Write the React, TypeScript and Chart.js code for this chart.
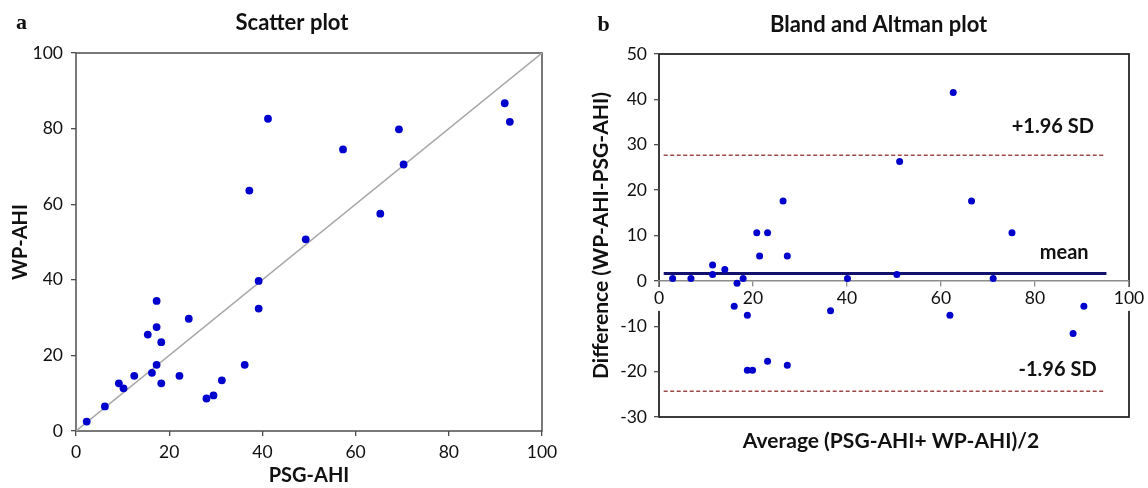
import React, { useEffect, useRef } from 'react';
import { Chart, registerables } from 'chart.js';

Chart.register(...registerables);

// ---------- Scatter plot (a) ----------
const psgAhi = [2.3, 6.2, 9.2, 10.2, 12.5, 15.4, 16.3, 17.3, 17.3, 17.3, 18.3, 18.3, 22.2, 24.2, 28.0, 29.5, 31.3, 36.2, 37.2, 39.2, 39.2, 41.2, 49.3, 57.3, 65.3, 69.3, 70.3, 92.0, 93.1];
const wpAhi = [2.5, 6.5, 12.6, 11.3, 14.6, 25.5, 15.4, 34.4, 27.5, 17.5, 23.5, 12.6, 14.6, 29.7, 8.6, 9.4, 13.4, 17.5, 63.6, 39.7, 32.4, 82.6, 50.7, 74.5, 57.5, 79.8, 70.5, 86.7, 81.8];
const identityLine = [0, 100];
const scatterTicks = [0, 20, 40, 60, 80, 100];

// ---------- Bland and Altman plot (b) ----------
const baAverage = [2.9, 6.8, 11.4, 11.4, 14.0, 16.0, 16.6, 17.9, 18.8, 18.8, 19.9, 20.8, 21.4, 23.1, 23.1, 26.4, 27.3, 27.3, 36.5, 40.1, 50.6, 51.2, 61.9, 62.6, 66.5, 71.1, 75.1, 88.1, 90.4];
const baDifference = [0.5, 0.5, 3.5, 1.4, 2.5, -5.6, -0.5, 0.5, -7.6, -19.7, -19.7, 10.6, 5.5, 10.6, -17.7, 17.6, 5.5, -18.6, -6.6, 0.5, 1.4, 26.3, -7.6, 41.5, 17.6, 0.5, 10.6, -11.6, -5.6];
const meanDiff = 1.65;
const upperLoA = 27.7;
const lowerLoA = -24.3;
const meanLineRange = [1, 95.2];
const loaLineRange = [1, 94.6];
const baXTicks = [0, 20, 40, 60, 80, 100];
const baYTicks = [-30, -20, -10, 0, 10, 20, 30, 40, 50];
const baAnnotationText = ['+1.96 SD', 'mean', '-1.96 SD'];
const baAnnotationX = [83.8, 86.2, 84.8];
const baAnnotationY = [34.0, 6.2, -19.6];

const SANS = 'Lato, "Open Sans", sans-serif';
const TICK_FONT = { family: SANS, size: 17.5, weight: 'normal' as const };
const TITLE_FONT = { family: SANS, size: 20, weight: 'bold' as const };
const TEXT = '#111111';
const POINT = '#0000cd';

const setTicks = (values: number[]) => (scale: any) => {
  scale.ticks = values.map((v) => ({ value: v }));
};

function drawText(ctx: CanvasRenderingContext2D, text: string, x: number, y: number, font: string, align: CanvasTextAlign = 'center') {
  ctx.save();
  ctx.font = font;
  ctx.fillStyle = TEXT;
  ctx.textAlign = align;
  ctx.textBaseline = 'middle';
  ctx.fillText(text, x, y);
  ctx.restore();
}

function ScatterChart() {
  const ref = useRef<HTMLCanvasElement>(null);
  useEffect(() => {
    const boxPlugin = {
      id: 'boxA',
      beforeDatasetsDraw(chart: any) {
        const { ctx, chartArea: a } = chart;
        ctx.save();
        ctx.strokeStyle = '#4d4d4d';
        ctx.lineWidth = 1.5;
        ctx.strokeRect(a.left, a.top, a.right - a.left, a.bottom - a.top);
        ctx.restore();
      },
      afterDraw(chart: any) {
        const { ctx } = chart;
        drawText(ctx, 'a', 21.5, 23, 'bold 22px "Liberation Serif", serif');
        drawText(ctx, 'Scatter plot', 292, 23, `bold 22px ${SANS}`);
      },
    };
    const chart = new Chart(ref.current!, {
      type: 'scatter',
      data: {
        datasets: [
          {
            type: 'scatter',
            data: psgAhi.map((x, i) => ({ x, y: wpAhi[i] })),
            backgroundColor: POINT,
            borderColor: POINT,
            pointRadius: 3.9,
            pointBorderWidth: 0,
            order: 0,
          },
          {
            type: 'line',
            data: identityLine.map((v) => ({ x: v, y: v })),
            borderColor: '#a8a8a8',
            borderWidth: 1.5,
            pointRadius: 0,
            showLine: true,
            order: 1,
          } as any,
        ],
      },
      options: {
        responsive: false,
        animation: false,
        layout: { padding: { left: 0, right: 32, top: 53, bottom: 0 } },
        plugins: { legend: { display: false }, tooltip: { enabled: false }, title: { display: false } },
        scales: {
          x: {
            type: 'linear',
            min: 0,
            max: 100,
            afterBuildTicks: setTicks(scatterTicks),
            afterFit: (s: any) => { s.height = 57; },
            grid: { drawOnChartArea: false, drawTicks: true, tickLength: 5, color: '#4d4d4d', lineWidth: 1.3 },
            border: { display: false },
            ticks: { font: TICK_FONT, color: TEXT, padding: 6, maxRotation: 0 },
            title: { display: true, text: 'PSG-AHI', font: TITLE_FONT, color: TEXT, padding: { top: 0, bottom: 0 } },
          },
          y: {
            type: 'linear',
            min: 0,
            max: 100,
            afterBuildTicks: setTicks(scatterTicks),
            afterFit: (s: any) => { s.width = 76; },
            grid: { drawOnChartArea: false, drawTicks: true, tickLength: 5, color: '#4d4d4d', lineWidth: 1.3 },
            border: { display: false },
            ticks: { font: TICK_FONT, color: TEXT, padding: 8 },
            title: { display: true, text: 'WP-AHI', font: TITLE_FONT, color: TEXT, padding: { top: 9, bottom: 0 } },
          },
        },
      },
      plugins: [boxPlugin],
    });
    return () => chart.destroy();
  }, []);
  return <canvas ref={ref} width={574} height={488} style={{ width: 574, height: 488, display: 'block' }} />;
}

function BlandAltmanChart() {
  const ref = useRef<HTMLCanvasElement>(null);
  useEffect(() => {
    const boxPlugin = {
      id: 'boxB',
      beforeDraw(chart: any) {
        const { ctx, chartArea: a } = chart;
        ctx.save();
        ctx.fillStyle = '#ffffff';
        ctx.fillRect(0, 0, chart.width, chart.height);
        ctx.strokeStyle = '#262626';
        ctx.lineWidth = 1.8;
        ctx.strokeRect(a.left, a.top, a.right - a.left, a.bottom - a.top);
        ctx.restore();
      },
      afterDatasetsDraw(chart: any) {
        const { ctx, scales } = chart;
        baAnnotationText.forEach((t, i) => {
          drawText(ctx, t, scales.x.getPixelForValue(baAnnotationX[i]), scales.y.getPixelForValue(baAnnotationY[i]), `bold 20px ${SANS}`);
        });
      },
      afterDraw(chart: any) {
        const { ctx, chartArea: a } = chart;
        drawText(ctx, 'b', 29.7, 25, 'bold 22px "Liberation Serif", serif');
        drawText(ctx, 'Bland and Altman plot', 304.6, 25, `bold 22px ${SANS}`);
        drawText(ctx, 'Average (PSG-AHI+ WP-AHI)/2', (a.left + a.right) / 2 - 3, 441.7, `bold 21px ${SANS}`);
      },
    };
    const chart = new Chart(ref.current!, {
      type: 'scatter',
      data: {
        datasets: [
          {
            type: 'scatter',
            data: baAverage.map((x, i) => ({ x, y: baDifference[i] })),
            backgroundColor: POINT,
            borderColor: POINT,
            pointRadius: 3.5,
            pointBorderWidth: 0,
            order: 0,
          },
          {
            type: 'line',
            data: meanLineRange.map((x) => ({ x, y: meanDiff })),
            borderColor: '#12126e',
            borderWidth: 3,
            pointRadius: 0,
            showLine: true,
            order: 1,
          } as any,
          {
            type: 'line',
            data: loaLineRange.map((x) => ({ x, y: upperLoA })),
            borderColor: '#a04848',
            borderWidth: 1.5,
            borderDash: [4, 2.5],
            pointRadius: 0,
            showLine: true,
            order: 2,
          } as any,
          {
            type: 'line',
            data: loaLineRange.map((x) => ({ x, y: lowerLoA })),
            borderColor: '#a04848',
            borderWidth: 1.5,
            borderDash: [4, 2.5],
            pointRadius: 0,
            showLine: true,
            order: 3,
          } as any,
        ],
      },
      options: {
        responsive: false,
        animation: false,
        layout: { padding: { left: 0, right: 19, top: 54, bottom: 71 } },
        plugins: { legend: { display: false }, tooltip: { enabled: false }, title: { display: false } },
        scales: {
          x: {
            type: 'linear',
            min: 0,
            max: 100,
            position: { y: 0 } as any,
            afterBuildTicks: setTicks(baXTicks),
            grid: { drawOnChartArea: false, drawTicks: true, tickLength: 5, color: '#8c8c8c', lineWidth: 1.3 },
            border: { display: true, color: '#8c8c8c', width: 1.5 },
            ticks: {
              font: TICK_FONT,
              color: TEXT,
              padding: 2,
              maxRotation: 0,
              showLabelBackdrop: true,
              backdropColor: '#ffffff',
              backdropPadding: { top: 1, bottom: 2, left: 3, right: 3 },
            } as any,
          },
          y: {
            type: 'linear',
            min: -30,
            max: 50,
            afterBuildTicks: setTicks(baYTicks),
            afterFit: (s: any) => { s.width = 85; },
            grid: { drawOnChartArea: false, drawTicks: true, tickLength: 5, color: '#4d4d4d', lineWidth: 1.3 },
            border: { display: false },
            ticks: { font: TICK_FONT, color: TEXT, padding: 7 },
            title: { display: true, text: 'Difference (WP-AHI-PSG-AHI)', font: { ...TITLE_FONT, size: 21 }, color: TEXT, padding: { top: 15, bottom: 0 } },
          },
        },
      },
      plugins: [boxPlugin],
    });
    return () => chart.destroy();
  }, []);
  return <canvas ref={ref} width={574} height={488} style={{ width: 574, height: 488, display: 'block' }} />;
}

export default function App() {
  return (
    <div style={{ position: 'absolute', left: 0, top: 0, width: 1148, height: 488, display: 'flex', background: '#ffffff' }}>
      <ScatterChart />
      <BlandAltmanChart />
    </div>
  );
}
